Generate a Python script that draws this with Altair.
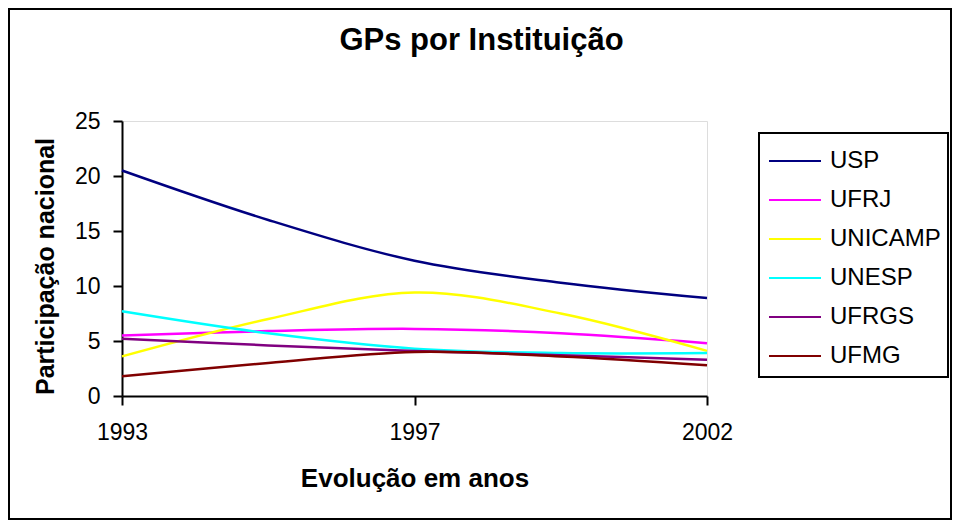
import altair as alt
import pandas as pd

years = ["1993", "1995", "1997", "2000", "2002"]
tick_years = ["1993", "1997", "2002"]
institutions = ["USP", "UFRJ", "UNICAMP", "UNESP", "UFRGS", "UFMG"]
colors = ["#000080", "#FF00FF", "#FFFF00", "#00FFFF", "#800080", "#800000"]

usp = [20.5, 16.0, 12.3, 10.3, 8.9]
ufrj = [5.5, 5.9, 6.1, 5.7, 4.8]
unicamp = [3.6, 7.0, 9.4, 7.5, 4.1]
unesp = [7.7, 5.7, 4.3, 3.9, 3.9]
ufrgs = [5.2, 4.6, 4.1, 3.7, 3.3]
ufmg = [1.8, 3.0, 4.0, 3.6, 2.8]

series = [usp, ufrj, unicamp, unesp, ufrgs, ufmg]
rows = []
for name, vals in zip(institutions, series):
    for y, v in zip(years, vals):
        rows.append({"Ano": y, "Instituicao": name, "Valor": v})
df = pd.DataFrame(rows)

FONT = "Liberation Sans"
W, H = 585, 275
PAD_L, PAD_T = 114, 113
CW, CH = 944, 512

lines = alt.Chart(df).mark_line(interpolate="cardinal", strokeWidth=2.5).encode(
    x=alt.X("Ano:O", sort=years,
            scale=alt.Scale(type="point", padding=0),
            axis=alt.Axis(values=tick_years, title="Evolução em anos", labelAngle=0,
                          labelFontSize=23, labelFont=FONT, labelColor="black",
                          labelPadding=16, tickSize=9, tickColor="black", tickWidth=2,
                          domainColor="black", domainWidth=2,
                          titleFont=FONT, titleFontSize=26, titleFontWeight="bold",
                          titleColor="black", titleY=82, titleBaseline="middle")),
    y=alt.Y("Valor:Q",
            scale=alt.Scale(domain=[0, 25], nice=False, zero=True),
            axis=alt.Axis(values=[0, 5, 10, 15, 20, 25], grid=False,
                          title="Participação nacional",
                          labelFontSize=23, labelFont=FONT, labelColor="black",
                          labelPadding=13, tickSize=9, tickColor="black", tickWidth=2,
                          domainColor="black", domainWidth=2,
                          titleFont=FONT, titleFontSize=25, titleFontWeight="bold",
                          titleColor="black", titleX=-77, titleY=145,
                          titleAngle=270, titleAlign="center", titleBaseline="middle")),
    color=alt.Color("Instituicao:N", sort=institutions,
                    scale=alt.Scale(domain=institutions, range=colors),
                    legend=alt.Legend(orient="none", legendX=646, legendY=13, title=None,
                                      symbolType="stroke", symbolSize=2704,
                                      symbolStrokeWidth=2, labelFontSize=24,
                                      labelFont=FONT, labelColor="black", labelOffset=8,
                                      padding=0, rowPadding=0,
                                      labelLimit=0)),
)

border = alt.Chart(pd.DataFrame({"k": [0]})).mark_rect(
    fill=None, stroke="black", strokeWidth=2
).encode(
    x=alt.value(-PAD_L + 1), x2=alt.value(CW - PAD_L - 1),
    y=alt.value(-PAD_T + 1), y2=alt.value(CH - PAD_T - 1),
)

legend_box = alt.Chart(pd.DataFrame({"k": [0]})).mark_rect(
    fill=None, stroke="black", strokeWidth=2
).encode(
    x=alt.value(637), x2=alt.value(826),
    y=alt.value(12), y2=alt.value(256),
)

chart = alt.layer(lines, border, legend_box).properties(
    width=W, height=H,
    title=alt.TitleParams("GPs por Instituição", font=FONT, fontSize=31,
                          fontWeight="bold", color="black", anchor="middle",
                          baseline="alphabetic", offset=0, dy=73, dx=67),
    autosize=alt.AutoSizeParams(type="none"),
    padding={"left": PAD_L, "top": PAD_T, "right": CW - PAD_L - W, "bottom": CH - PAD_T - H},
).configure_view(
    fill="#c8c8c8", stroke="#808080", strokeWidth=2
).configure(background="white")

chart.save("out.html", embed_options={"renderer": "svg", "actions": False})
